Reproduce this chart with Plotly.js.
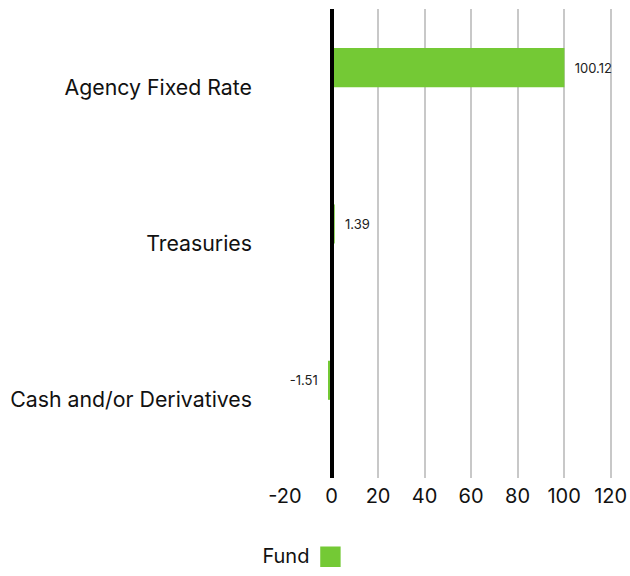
<!DOCTYPE html>
<html><head><meta charset="utf-8">
<script src="https://cdn.plot.ly/plotly-3.0.1.min.js"></script>
<style>body{margin:0;background:#fff}</style></head>
<body><div id="chart" style="width:630px;height:576px"></div>
<script>
const categories = ["Agency Fixed Rate", "Treasuries", "Cash and/or Derivatives"];
const fundValues = [100.12, 1.39, -1.51];
const xTicks = [-20, 0, 20, 40, 60, 80, 100, 120];
const seriesName = "Fund";

const pad = "\u00a0\u00a0";
const labels = fundValues.map(v => v >= 0 ? pad + v.toFixed(2) : v.toFixed(2) + pad);

const fontFam = "Inter, sans-serif";
const trace = {
  type: "bar", orientation: "h",
  y: categories, x: fundValues,
  name: "", showlegend: true,
  marker: {color: "#74C935"},
  width: 0.25, offset: -0.25,
  text: labels, textposition: "outside", cliponaxis: false,
  textfont: {family: fontFam, size: 13, color: "#222"},
  hoverinfo: "none"
};
const layout = {
  width: 630, height: 576,
  margin: {l: 285, r: 17, t: 9, b: 98, autoexpand: false},
  paper_bgcolor: "#fff", plot_bgcolor: "#fff",
  font: {family: fontFam, color: "#111"},
  xaxis: {
    range: [-20, 121], tickvals: xTicks, ticktext: xTicks.map(String),
    showgrid: true, gridcolor: "#c8c8c8", gridwidth: 2,
    zeroline: true, zerolinecolor: "#000", zerolinewidth: 4,
    zerolinelayer: "above traces",
    showline: false, ticks: "", ticklabelstandoff: 4,
    tickfont: {size: 20, family: fontFam, color: "#111"}
  },
  yaxis: {
    autorange: "reversed", type: "category",
    showgrid: false, zeroline: false, showline: false, ticks: "",
    ticklabelstandoff: 32,
    tickfont: {size: 21.3, family: fontFam, color: "#111"}
  },
  showlegend: true,
  legend: {
    orientation: "h", x: -0.075, xanchor: "left", y: -0.168, yanchor: "middle",
    title: {text: seriesName, side: "left", font: {size: 20, family: fontFam, color: "#111"}},
    font: {size: 20}
  }
};
Plotly.newPlot("chart", [trace], layout, {displayModeBar: false, staticPlot: true}).then(gd => {
  gd.querySelectorAll(".legendpoints path").forEach(p => {
    p.setAttribute("transform", "translate(13,0) scale(1.7)");
  });
});
</script></body></html>
